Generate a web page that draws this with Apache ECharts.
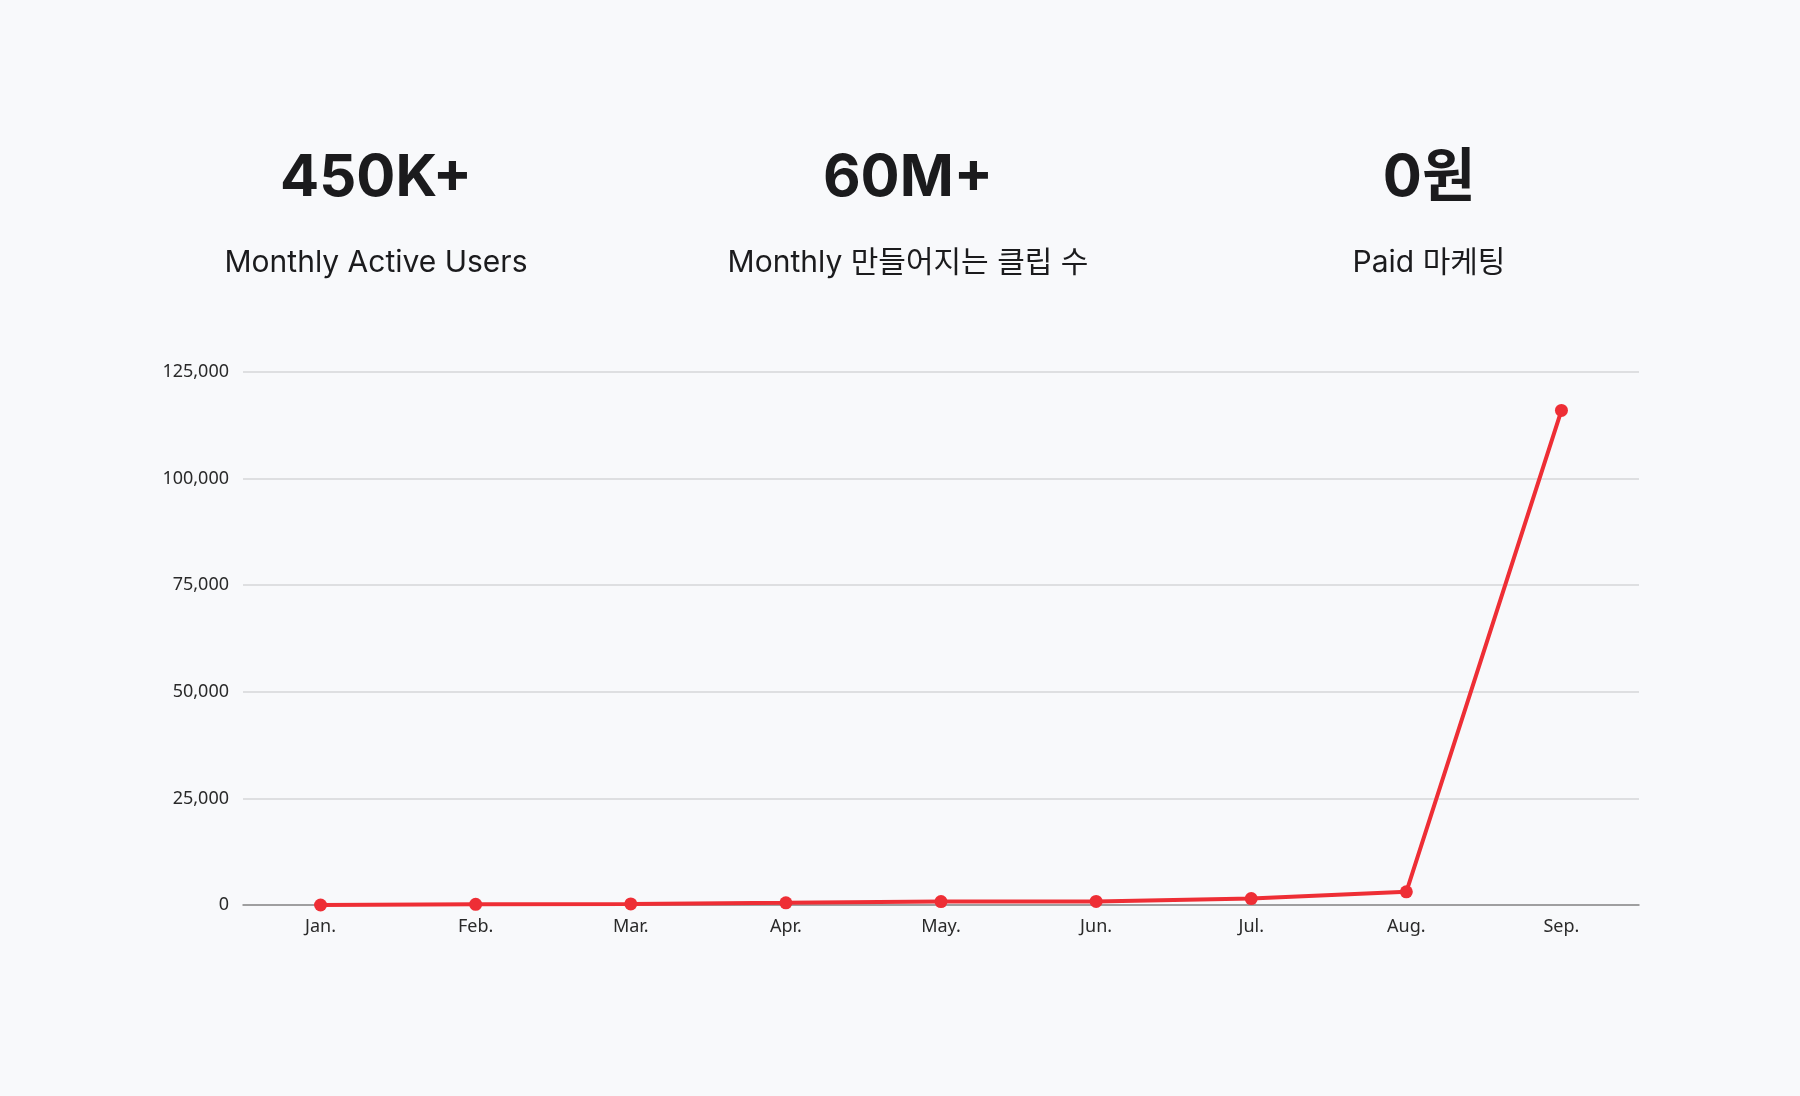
<!DOCTYPE html>
<html>
<head>
<meta charset="utf-8">
<script src="https://cdn.jsdelivr.net/npm/echarts@6/dist/echarts.min.js"></script>
<style>
  html, body { margin: 0; padding: 0; background: #f8f9fb; }
  #main { width: 1800px; height: 1096px; }
</style>
</head>
<body>
<div id="main"></div>
<script>
var months = ['Jan.', 'Feb.', 'Mar.', 'Apr.', 'May.', 'Jun.', 'Jul.', 'Aug.', 'Sep.'];
var users = [0, 150, 250, 500, 800, 850, 1500, 3100, 116000];
var yTicks = [0, 125000, 25000]; // min, max, interval

var headlines = ['450K+', '60M+', '0원'];
var captions = ['Monthly Active Users', 'Monthly 만들어지는 클립 수', 'Paid 마케팅'];
var columnX = [376, 908, 1429];

var fontFamily = 'Inter, "Noto Sans CJK KR", sans-serif';
var graphics = [];
headlines.forEach(function (h, i) {
    graphics.push({
        type: 'text',
        x: columnX[i],
        y: 179,
        style: {
            text: h,
            align: 'center',
            verticalAlign: 'middle',
            fill: '#1b1b1d',
            font: 'bold 58px ' + fontFamily
        }
    });
    graphics.push({
        type: 'text',
        x: columnX[i],
        y: 263,
        style: {
            text: captions[i],
            align: 'center',
            verticalAlign: 'middle',
            fill: '#1b1b1d',
            font: '30px ' + fontFamily
        }
    });
});

var myChart = echarts.init(document.getElementById('main'));
option = {
    backgroundColor: '#f8f9fb',
    animation: false,
    graphic: graphics,
    grid: {
        left: 243,
        right: 161,
        top: 372,
        bottom: 191
    },
    xAxis: {
        type: 'category',
        data: months,
        axisLine: { lineStyle: { color: '#8a8a8a', width: 1.5 } },
        axisTick: { show: false },
        axisLabel: {
            color: '#2a2a2a',
            fontSize: 18,
            fontFamily: '"Noto Sans", sans-serif',
            margin: 13
        }
    },
    yAxis: {
        type: 'value',
        min: yTicks[0],
        max: yTicks[1],
        interval: yTicks[2],
        axisLine: { show: false },
        axisTick: { show: false },
        splitLine: { lineStyle: { color: '#d6d6d8', width: 1.5 } },
        axisLabel: {
            color: '#2a2a2a',
            fontSize: 18,
            fontFamily: '"Noto Sans", sans-serif',
            margin: 14,
            formatter: function (v) { return v.toLocaleString('en-US'); }
        }
    },
    series: [
        {
            name: 'Users',
            type: 'line',
            data: users,
            symbol: 'circle',
            symbolSize: 13,
            itemStyle: { color: '#ee2e35' },
            lineStyle: { color: '#ee2e35', width: 4 }
        }
    ]
};
myChart.setOption(option);
</script>
</body>
</html>
